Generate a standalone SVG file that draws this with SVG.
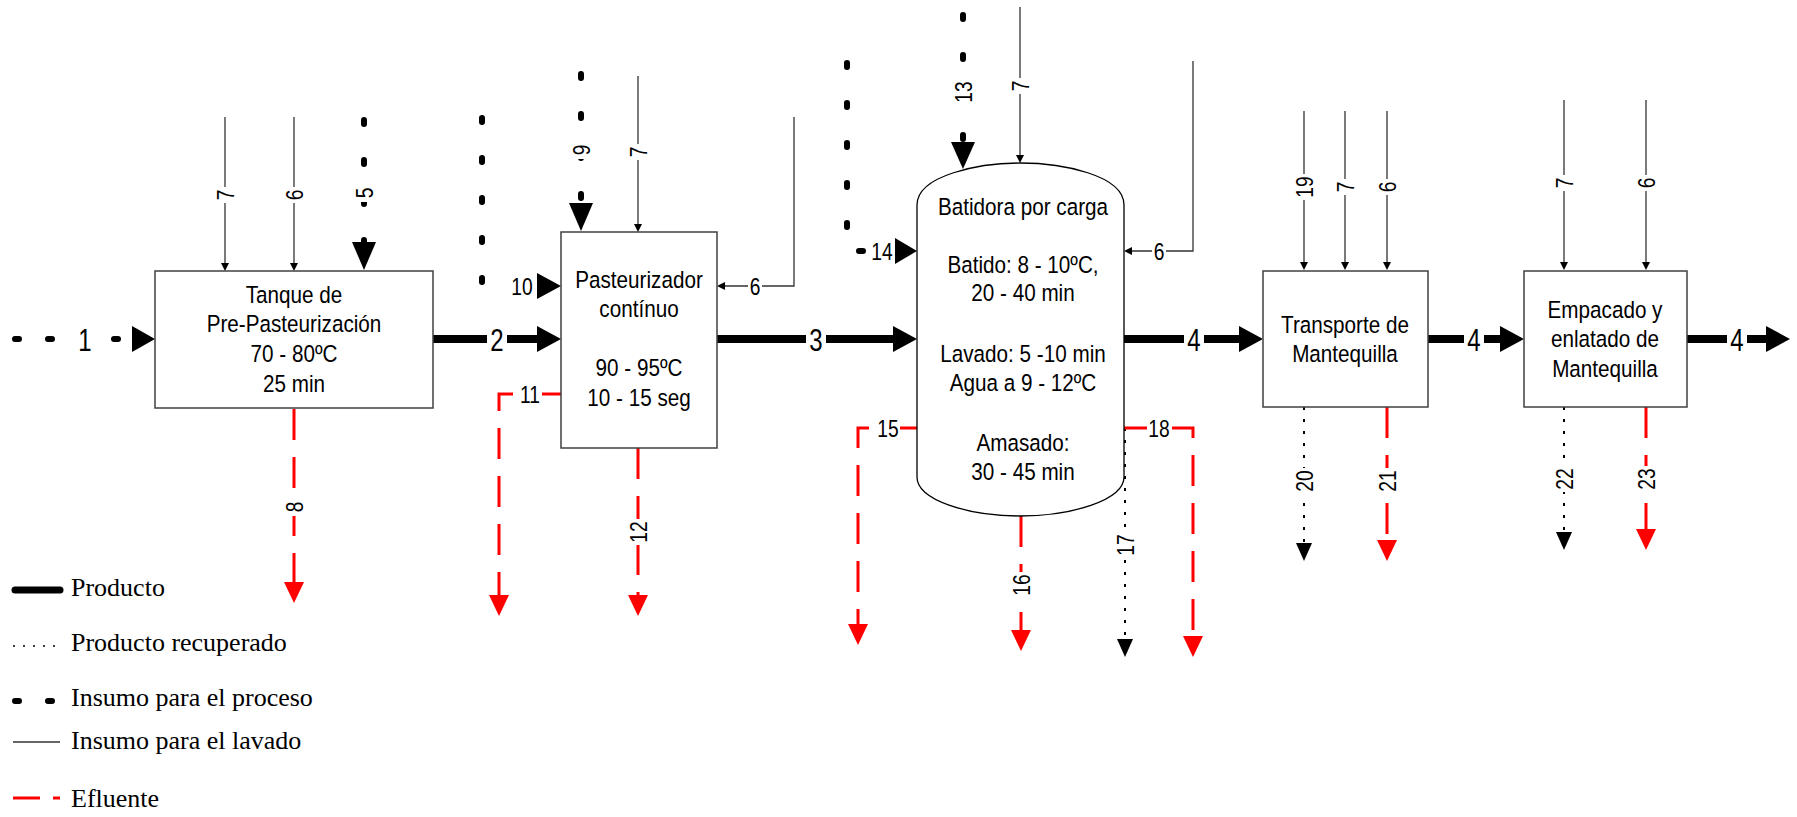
<svg xmlns="http://www.w3.org/2000/svg" width="1797" height="817" viewBox="0 0 1797 817">
<style>
.box{fill:#fff;stroke:#404040;stroke-width:1.5}
.bt{font-family:"Liberation Sans",Arial,sans-serif;font-size:23.5px;text-anchor:middle;fill:#000}
.l{font-family:"Liberation Sans",Arial,sans-serif;font-size:24px;text-anchor:middle;fill:#000}
.lb{font-family:"Liberation Sans",Arial,sans-serif;font-size:32px;text-anchor:middle;fill:#000}
.lg{font-family:"Liberation Serif","Times New Roman",serif;font-size:26px;fill:#000}
.prod{stroke:#000;stroke-width:8;fill:none;stroke-linecap:round}
.ins{stroke:#000;stroke-width:6;fill:none;stroke-linecap:round;stroke-dasharray:4 36}
.wash{stroke:#333;stroke-width:1.3;fill:none}
.eff{stroke:#f00;stroke-width:3;fill:none;stroke-dasharray:31 17}
.rec{stroke:#000;stroke-width:2;fill:none;stroke-dasharray:3 9}
.ah{fill:#000}
.ahr{fill:#f00}
.bg{fill:#fff}
</style>
<rect width="1797" height="817" fill="#fff"/>

<g id="connectors">
  <!-- 1 insumo -->
  <g><path class="ins" style="stroke-dasharray:4 29" d="M15,339 H132"/><polygon class="ah" points="132,326 155,339 132,352"/>
    <g transform="translate(85,339)"><rect class="bg" x="-11" y="-14" width="22" height="28"/><text class="lb" y="11.5" transform="scale(0.75,1)">1</text></g></g>
  <!-- 2 product -->
  <g><path class="prod" d="M433,339 H538"/><polygon class="ah" points="537,326 561,339 537,352"/>
    <g transform="translate(497,339)"><rect class="bg" x="-10" y="-14" width="20" height="28"/><text class="lb" y="11.5" transform="scale(0.75,1)">2</text></g></g>
  <!-- 3 product -->
  <g><path class="prod" d="M717,339 H894"/><polygon class="ah" points="893,326 917,339 893,352"/>
    <g transform="translate(816,339)"><rect class="bg" x="-10" y="-14" width="20" height="28"/><text class="lb" y="11.5" transform="scale(0.75,1)">3</text></g></g>
  <!-- 4 product a -->
  <g><path class="prod" d="M1124,339 H1240"/><polygon class="ah" points="1239,326 1263,339 1239,352"/>
    <g transform="translate(1194,339)"><rect class="bg" x="-10" y="-14" width="20" height="28"/><text class="lb" y="11.5" transform="scale(0.75,1)">4</text></g></g>
  <!-- 4 product b -->
  <g><path class="prod" d="M1428,339 H1501"/><polygon class="ah" points="1500,326 1524,339 1500,352"/>
    <g transform="translate(1474,339)"><rect class="bg" x="-10" y="-14" width="20" height="28"/><text class="lb" y="11.5" transform="scale(0.75,1)">4</text></g></g>
  <!-- 4 product c -->
  <g><path class="prod" d="M1687,339 H1767"/><polygon class="ah" points="1766,326 1790,339 1766,352"/>
    <g transform="translate(1737,339)"><rect class="bg" x="-10" y="-14" width="20" height="28"/><text class="lb" y="11.5" transform="scale(0.75,1)">4</text></g></g>

  <!-- Box 1 inputs -->
  <g><path class="wash" d="M225,117 V263"/><polygon class="ah" points="221,263 229,263 225,271"/>
    <g transform="translate(225,195) rotate(-90)"><rect class="bg" x="-8" y="-8" width="16" height="16"/><text class="l" y="8.6" transform="scale(0.8,1)">7</text></g></g>
  <g><path class="wash" d="M294,117 V263"/><polygon class="ah" points="290,263 298,263 294,271"/>
    <g transform="translate(294,195) rotate(-90)"><rect class="bg" x="-8" y="-8" width="16" height="16"/><text class="l" y="8.6" transform="scale(0.8,1)">6</text></g></g>
  <g><path class="ins" d="M364,120 V242"/><polygon class="ah" points="352,242 376,242 364,270"/>
    <g transform="translate(364,193) rotate(-90)"><rect class="bg" x="-9" y="-9" width="18" height="18"/><text class="l" y="8.6" transform="scale(0.8,1)">5</text></g></g>
  <!-- 8 effluent -->
  <g><path class="eff" d="M294,409 V583"/><polygon class="ahr" points="284,582 304,582 294,603"/>
    <g transform="translate(294,507) rotate(-90)"><rect class="bg" x="-9" y="-9" width="18" height="18"/><text class="l" y="8.6" transform="scale(0.8,1)">8</text></g></g>

  <!-- Box 2 inputs -->
  <g><path class="ins" d="M581,74 V203"/><polygon class="ah" points="569,203 593,203 581,231"/>
    <g transform="translate(581,150) rotate(-90)"><rect class="bg" x="-9" y="-9" width="18" height="18"/><text class="l" y="8.6" transform="scale(0.8,1)">9</text></g></g>
  <g><path class="wash" d="M638,76 V224"/><polygon class="ah" points="634,224 642,224 638,232"/>
    <g transform="translate(638,152) rotate(-90)"><rect class="bg" x="-8" y="-8" width="16" height="16"/><text class="l" y="8.6" transform="scale(0.8,1)">7</text></g></g>
  <g><path class="wash" d="M794,117 V286 H725"/><polygon class="ah" points="725,282 725,290 717,286"/>
    <g transform="translate(755,286)"><rect class="bg" x="-7" y="-9" width="14" height="18"/><text class="l" y="8.6" transform="scale(0.8,1)">6</text></g></g>
  <g><path class="ins" d="M482,118 V286 H537"/><polygon class="ah" points="537,273 561,286 537,299"/>
    <g transform="translate(522,286)"><rect class="bg" x="-11" y="-10" width="22" height="20"/><text class="l" y="8.6" transform="scale(0.8,1)">10</text></g></g>
  <!-- 11, 12 effluent -->
  <g><path class="eff" d="M561,394 H499 V596"/><polygon class="ahr" points="489,595 509,595 499,616"/>
    <g transform="translate(530,394)"><rect class="bg" x="-12" y="-9" width="24" height="18"/><text class="l" y="8.6" transform="scale(0.8,1)">11</text></g></g>
  <g><path class="eff" d="M638,448 V596"/><polygon class="ahr" points="628,595 648,595 638,616"/>
    <g transform="translate(638,532) rotate(-90)"><rect class="bg" x="-13" y="-9" width="26" height="18"/><text class="l" y="8.6" transform="scale(0.8,1)">12</text></g></g>

  <!-- Batidora inputs -->
  <g><path class="ins" d="M963,15 V142"/><polygon class="ah" points="951,142 975,142 963,169"/>
    <g transform="translate(963,92) rotate(-90)"><rect class="bg" x="-14" y="-9" width="28" height="18"/><text class="l" y="8.6" transform="scale(0.8,1)">13</text></g></g>
  <g><path class="wash" d="M1020,7 V155"/><polygon class="ah" points="1016,155 1024,155 1020,163"/>
    <g transform="translate(1020,86) rotate(-90)"><rect class="bg" x="-8" y="-8" width="16" height="16"/><text class="l" y="8.6" transform="scale(0.8,1)">7</text></g></g>
  <g><path class="wash" d="M1193,61 V251 H1132"/><polygon class="ah" points="1132,247 1132,255 1124,251"/>
    <g transform="translate(1159,251)"><rect class="bg" x="-7" y="-9" width="14" height="18"/><text class="l" y="8.6" transform="scale(0.8,1)">6</text></g></g>
  <g><path class="ins" d="M847,63 V251 H895"/><polygon class="ah" points="895,238 917,251 895,264"/>
    <g transform="translate(882,251)"><rect class="bg" x="-12" y="-10" width="24" height="20"/><text class="l" y="8.6" transform="scale(0.8,1)">14</text></g></g>
  <!-- Batidora outputs -->
  <g><path class="eff" d="M917,428 H858 V625"/><polygon class="ahr" points="848,624 868,624 858,645"/>
    <g transform="translate(888,428)"><rect class="bg" x="-12" y="-9" width="24" height="18"/><text class="l" y="8.6" transform="scale(0.8,1)">15</text></g></g>
  <g><path class="eff" d="M1021,516 V631"/><polygon class="ahr" points="1011,630 1031,630 1021,651"/>
    <g transform="translate(1021,585) rotate(-90)"><rect class="bg" x="-13" y="-9" width="26" height="18"/><text class="l" y="8.6" transform="scale(0.8,1)">16</text></g></g>
  <g><path class="rec" d="M1125,428 V639"/><polygon class="ah" points="1117,639 1133,639 1125,657"/>
    <g transform="translate(1125,545) rotate(-90)"><rect class="bg" x="-13" y="-9" width="26" height="18"/><text class="l" y="8.6" transform="scale(0.8,1)">17</text></g></g>
  <g><path class="eff" d="M1124,428 H1193 V637"/><polygon class="ahr" points="1183,636 1203,636 1193,657"/>
    <g transform="translate(1159,428)"><rect class="bg" x="-12" y="-9" width="24" height="18"/><text class="l" y="8.6" transform="scale(0.8,1)">18</text></g></g>

  <!-- Box 4 inputs/outputs -->
  <g><path class="wash" d="M1304,111 V262"/><polygon class="ah" points="1300,262 1308,262 1304,270"/>
    <g transform="translate(1304,187) rotate(-90)"><rect class="bg" x="-13" y="-8" width="26" height="16"/><text class="l" y="8.6" transform="scale(0.8,1)">19</text></g></g>
  <g><path class="wash" d="M1345,111 V262"/><polygon class="ah" points="1341,262 1349,262 1345,270"/>
    <g transform="translate(1345,187) rotate(-90)"><rect class="bg" x="-8" y="-8" width="16" height="16"/><text class="l" y="8.6" transform="scale(0.8,1)">7</text></g></g>
  <g><path class="wash" d="M1387,111 V262"/><polygon class="ah" points="1383,262 1391,262 1387,270"/>
    <g transform="translate(1387,187) rotate(-90)"><rect class="bg" x="-8" y="-8" width="16" height="16"/><text class="l" y="8.6" transform="scale(0.8,1)">6</text></g></g>
  <g><path class="rec" d="M1304,407 V543"/><polygon class="ah" points="1296,543 1312,543 1304,561"/>
    <g transform="translate(1304,481) rotate(-90)"><rect class="bg" x="-13" y="-9" width="26" height="18"/><text class="l" y="8.6" transform="scale(0.8,1)">20</text></g></g>
  <g><path class="eff" d="M1387,407 V541"/><polygon class="ahr" points="1377,540 1397,540 1387,561"/>
    <g transform="translate(1387,481) rotate(-90)"><rect class="bg" x="-13" y="-9" width="26" height="18"/><text class="l" y="8.6" transform="scale(0.8,1)">21</text></g></g>

  <!-- Box 5 inputs/outputs -->
  <g><path class="wash" d="M1564,100 V262"/><polygon class="ah" points="1560,262 1568,262 1564,270"/>
    <g transform="translate(1564,183) rotate(-90)"><rect class="bg" x="-8" y="-8" width="16" height="16"/><text class="l" y="8.6" transform="scale(0.8,1)">7</text></g></g>
  <g><path class="wash" d="M1646,100 V262"/><polygon class="ah" points="1642,262 1650,262 1646,270"/>
    <g transform="translate(1646,183) rotate(-90)"><rect class="bg" x="-8" y="-8" width="16" height="16"/><text class="l" y="8.6" transform="scale(0.8,1)">6</text></g></g>
  <g><path class="rec" d="M1564,407 V532"/><polygon class="ah" points="1556,532 1572,532 1564,550"/>
    <g transform="translate(1564,479) rotate(-90)"><rect class="bg" x="-13" y="-9" width="26" height="18"/><text class="l" y="8.6" transform="scale(0.8,1)">22</text></g></g>
  <g><path class="eff" d="M1646,407 V530"/><polygon class="ahr" points="1636,529 1656,529 1646,550"/>
    <g transform="translate(1646,479) rotate(-90)"><rect class="bg" x="-13" y="-9" width="26" height="18"/><text class="l" y="8.6" transform="scale(0.8,1)">23</text></g></g>
</g>

<g id="node-tanque">
  <rect class="box" x="155" y="271" width="278" height="137"/>
  <text class="bt" transform="translate(294,303) scale(0.88,1)">Tanque de</text>
  <text class="bt" transform="translate(294,332) scale(0.88,1)">Pre-Pasteurización</text>
  <text class="bt" transform="translate(294,362) scale(0.88,1)">70 - 80ºC</text>
  <text class="bt" transform="translate(294,392) scale(0.88,1)">25 min</text>
</g>

<g id="node-pasteurizador">
  <rect class="box" x="561" y="232" width="156" height="216"/>
  <text class="bt" transform="translate(639,288) scale(0.88,1)">Pasteurizador</text>
  <text class="bt" transform="translate(639,317) scale(0.88,1)">contínuo</text>
  <text class="bt" transform="translate(639,376) scale(0.88,1)">90 - 95ºC</text>
  <text class="bt" transform="translate(639,406) scale(0.88,1)">10 - 15 seg</text>
</g>

<g id="node-batidora">
  <path d="M917,477 V205 C917,175 980,163 1020,163 C1062,163 1124,175 1124,205 V477 C1124,500 1072,516 1020,516 C968,516 917,500 917,477 Z" fill="#fff" stroke="#000" stroke-width="1.3"/>
  <text class="bt" transform="translate(1023,215) scale(0.88,1)">Batidora por carga</text>
  <text class="bt" transform="translate(1023,273) scale(0.88,1)">Batido: 8 - 10ºC,</text>
  <text class="bt" transform="translate(1023,301) scale(0.88,1)">20 - 40 min</text>
  <text class="bt" transform="translate(1023,362) scale(0.88,1)">Lavado: 5 -10 min</text>
  <text class="bt" transform="translate(1023,391) scale(0.88,1)">Agua a 9 - 12ºC</text>
  <text class="bt" transform="translate(1023,451) scale(0.88,1)">Amasado:</text>
  <text class="bt" transform="translate(1023,480) scale(0.88,1)">30 - 45 min</text>
</g>

<g id="node-transporte">
  <rect class="box" x="1263" y="271" width="165" height="136"/>
  <text class="bt" transform="translate(1345,333) scale(0.88,1)">Transporte de</text>
  <text class="bt" transform="translate(1345,362) scale(0.88,1)">Mantequilla</text>
</g>

<g id="node-empacado">
  <rect class="box" x="1524" y="271" width="163" height="136"/>
  <text class="bt" transform="translate(1605,318) scale(0.88,1)">Empacado y</text>
  <text class="bt" transform="translate(1605,347) scale(0.88,1)">enlatado de</text>
  <text class="bt" transform="translate(1605,377) scale(0.88,1)">Mantequilla</text>
</g>

<g id="legend">
  <line x1="15" y1="590" x2="60" y2="590" stroke="#000" stroke-width="7" stroke-linecap="round"/>
  <text class="lg" x="71" y="596">Producto</text>
  <line x1="13" y1="646" x2="63" y2="646" class="rec" style="stroke-width:1.5;stroke-dasharray:2 8"/>
  <text class="lg" x="71" y="651">Producto recuperado</text>
  <line x1="15" y1="701" x2="19" y2="701" stroke="#000" stroke-width="6" stroke-linecap="round"/>
  <line x1="48" y1="701" x2="52" y2="701" stroke="#000" stroke-width="6" stroke-linecap="round"/>
  <text class="lg" x="71" y="706">Insumo para el proceso</text>
  <line x1="13" y1="742" x2="60" y2="742" stroke="#333" stroke-width="1.3"/>
  <text class="lg" x="71" y="749">Insumo para el lavado</text>
  <line x1="13" y1="798" x2="40" y2="798" stroke="#f00" stroke-width="3"/>
  <line x1="53" y1="798" x2="60" y2="798" stroke="#f00" stroke-width="3"/>
  <text class="lg" x="71" y="807">Efluente</text>
</g>
</svg>
